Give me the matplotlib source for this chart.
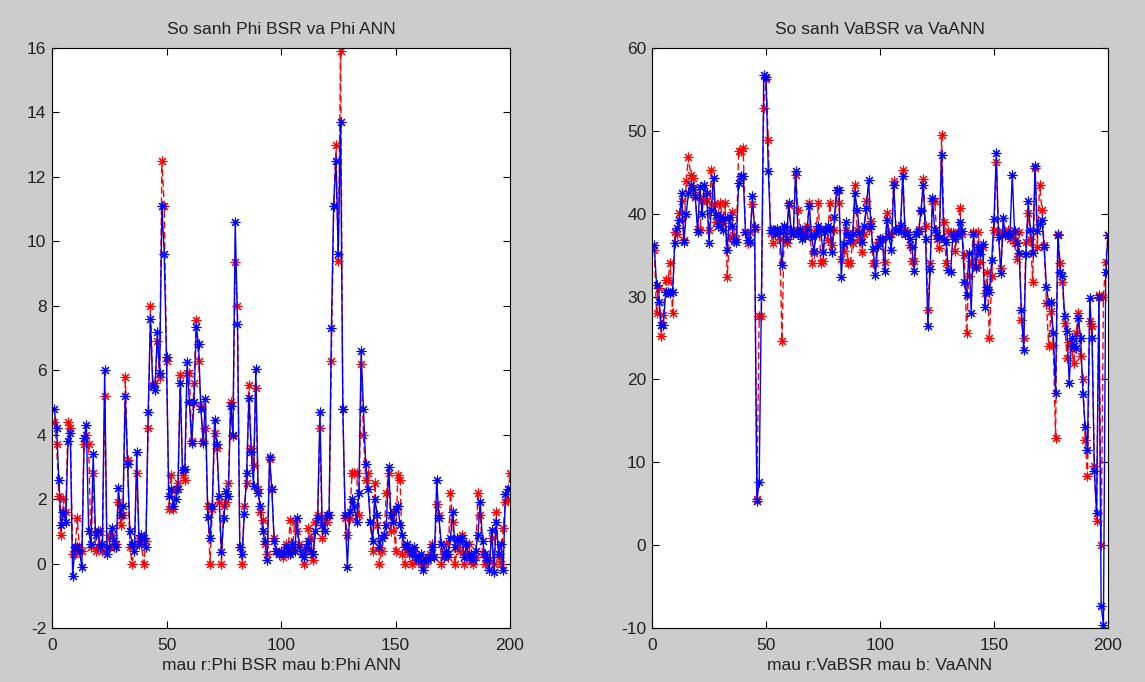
import numpy as np
import matplotlib
matplotlib.use("Agg")
import matplotlib.pyplot as plt

# Sample index (1..200)
samples = np.arange(1, 201)

# Phi: BSR reference (red) and ANN estimate (blue)
phi_bsr = [
    4.4, 3.7, 2.1, 0.9, 2.0, 1.6, 4.4, 4.2, 0.3, 0.3,
    1.4, 0.5, 0.4, 3.7, 4.0, 3.7, 0.5, 2.8, 0.4, 0.5,
    1.0, 0.4, 5.2, 0.5, 0.9, 0.9, 0.5, 0.6, 1.9, 1.2,
    1.5, 5.8, 3.2, 0.5, 0.0, 0.6, 2.8, 0.8, 0.6, 0.0,
    0.7, 4.2, 8.0, 5.55, 5.6, 6.9, 5.8, 12.5, 11.1, 6.3,
    1.7, 2.75, 1.7, 2.3, 2.5, 5.85, 2.75, 2.6, 5.9, 5.9,
    3.8, 5.6, 7.55, 6.3, 4.9, 3.8, 4.2, 1.8, 0.0, 1.7,
    4.05, 3.6, 1.9, 0.0, 1.8, 1.9, 2.5, 5.0, 3.95, 9.35,
    8.0, 0.5, 0.0, 1.8, 2.5, 5.55, 3.6, 3.05, 5.45, 2.3,
    1.6, 1.35, 0.6, 0.3, 3.25, 2.3, 0.8, 0.4, 0.3, 0.4,
    0.2, 0.6, 0.3, 1.35, 0.4, 1.3, 1.0, 0.6, 0.3, 0.0,
    0.4, 1.1, 0.8, 0.1, 1.3, 1.5, 4.2, 0.8, 1.4, 1.3,
    1.5, 6.3, 11.1, 13.0, 9.4, 15.9, 4.8, 1.4, 0.9, 1.4,
    2.8, 2.8, 2.8, 1.5, 6.2, 4.0, 2.6, 2.8, 1.3, 0.4,
    2.5, 1.2, 0.0, 0.4, 0.9, 2.2, 2.8, 1.0, 1.6, 0.4,
    2.75, 2.6, 0.3, 0.0, 0.5, 0.3, 0.0, 0.4, 0.1, 0.2,
    0.0, 0.1, 0.0, 0.2, 0.3, 0.6, 0.2, 1.85, 1.5, 0.0,
    0.3, 0.6, 0.2, 2.2, 1.3, 0.0, 0.5, 0.4, 0.9, 0.0,
    0.3, 0.6, 0.1, 0.0, 0.2, 2.2, 1.5, 0.3, 0.0, 0.2,
    0.1, 0.8, 0.0, 1.6, 0.2, 0.0, 1.1, 1.9, 2.0, 2.8,
]
phi_ann = [
    4.8, 4.2, 2.6, 1.2, 1.6, 1.3, 3.8, 4.05, -0.4, 0.5,
    0.5, 0.4, -0.1, 3.9, 4.3, 1.0, 0.6, 3.4, 0.9, 1.0,
    0.5, 0.6, 6.0, 0.3, 0.5, 1.1, 0.7, 0.5, 2.35, 1.5,
    1.8, 5.2, 3.1, 1.0, 0.6, 0.4, 3.45, 0.6, 0.9, 0.8,
    0.5, 4.7, 7.6, 5.5, 5.4, 7.2, 5.9, 11.1, 9.6, 6.4,
    2.1, 2.3, 1.8, 2.0, 2.3, 5.6, 2.9, 2.95, 6.25, 5.0,
    3.75, 5.0, 7.35, 6.8, 4.8, 3.75, 5.1, 1.45, 0.8, 1.8,
    4.45, 3.7, 2.1, 0.35, 1.4, 2.25, 2.1, 4.9, 4.0, 10.6,
    7.45, 0.5, 0.3, 1.55, 2.8, 5.15, 3.45, 2.4, 6.05, 2.2,
    1.8, 1.0, 0.7, 0.1, 3.3, 2.3, 0.7, 0.4, 0.3, 0.35,
    0.3, 0.5, 0.4, 0.3, 0.6, 0.4, 1.4, 0.5, 0.3, 0.2,
    0.5, 0.7, 0.4, 0.3, 1.0, 1.4, 4.7, 1.2, 1.0, 1.5,
    1.5, 7.3, 11.1, 12.5, 9.6, 13.7, 4.8, 1.5, -0.1, 1.6,
    2.0, 1.8, 1.3, 2.2, 6.6, 4.8, 3.1, 2.3, 1.3, 0.7,
    2.0, 1.5, 0.5, 0.8, 0.9, 1.2, 3.0, 1.5, 1.3, 1.7,
    1.8, 1.2, 0.9, 0.5, 0.6, 0.45, 0.3, 0.5, 0.2, 0.1,
    0.3, -0.2, 0.15, 0.1, 0.2, 0.5, 0.2, 2.6, 1.4, 0.6,
    0.2, 0.4, 0.3, 0.8, 1.6, 0.5, 0.8, 0.7, 0.8, 0.2,
    0.6, 0.2, 0.3, 0.1, 0.4, 0.9, 1.9, 0.7, 0.3, 0.1,
    -0.2, 1.05, -0.25, 1.3, 0.3, 0.6, -0.2, 2.15, 2.3, 2.3,
]

# Va: BSR reference (red) and ANN estimate (blue)
va_bsr = [
    35.6, 28.0, 31.0, 25.2, 27.8, 32.0, 32.0, 34.1, 28.0, 37.8,
    37.5, 40.1, 41.5, 36.8, 44.0, 46.8, 44.7, 44.3, 42.3, 38.1,
    38.0, 41.6, 41.9, 41.5, 38.0, 45.3, 41.2, 39.0, 40.0, 41.3,
    38.9, 41.3, 32.4, 37.2, 40.2, 37.4, 37.0, 47.6, 47.6, 47.9,
    37.8, 36.5, 37.8, 41.2, 38.2, 5.6, 27.7, 27.7, 52.8, 56.3,
    48.9, 37.7, 36.5, 38.0, 37.7, 37.0, 24.6, 38.5, 36.5, 41.0,
    37.5, 38.0, 44.7, 40.5, 37.6, 38.0, 37.4, 38.5, 41.3, 34.1,
    35.3, 38.0, 41.3, 34.1, 34.3, 38.2, 36.8, 41.3, 36.2, 38.0,
    42.9, 41.3, 34.5, 35.5, 38.0, 34.1, 34.1, 36.5, 43.5, 38.0,
    37.0, 35.4, 37.5, 41.5, 38.2, 39.1, 34.1, 34.1, 36.6, 36.9,
    36.9, 34.2, 40.1, 37.7, 37.5, 43.9, 38.0, 38.1, 37.8, 45.3,
    38.0, 37.6, 36.2, 34.3, 34.3, 37.6, 38.2, 40.3, 44.2, 38.5,
    28.4, 34.1, 41.5, 41.5, 37.0, 35.9, 49.5, 39.0, 34.1, 37.9,
    37.7, 37.7, 35.5, 37.8, 40.7, 37.5, 35.0, 25.6, 32.5, 34.3,
    37.8, 33.4, 37.8, 34.2, 36.0, 30.4, 33.0, 25.0, 32.5, 38.0,
    46.3, 37.8, 33.4, 37.8, 37.5, 38.0, 37.0, 37.2, 36.5, 34.5,
    37.8, 27.2, 25.0, 36.6, 40.1, 37.0, 31.7, 45.5, 36.0, 43.5,
    40.5, 36.2, 29.2, 24.0, 28.2, 24.2, 12.9, 37.6, 34.1, 31.7,
    26.8, 22.6, 24.5, 23.7, 22.0, 25.6, 28.0, 22.8, 20.0, 12.7,
    8.3, 27.0, 26.5, 9.5, 2.9, 30.2, 0.0, 30.0, 34.2, 37.4,
]
va_ann = [
    36.2, 31.4, 29.4, 26.6, 26.6, 30.5, 30.5, 30.4, 30.5, 36.5,
    38.3, 39.3, 42.5, 36.6, 40.0, 42.5, 43.5, 43.0, 42.0, 37.8,
    43.2, 40.0, 43.5, 42.5, 36.5, 40.5, 44.3, 39.8, 38.5, 39.6,
    38.0, 39.5, 35.6, 39.6, 38.5, 36.7, 36.6, 43.7, 44.5, 44.5,
    37.8, 36.8, 36.6, 42.1, 38.4, 5.3, 7.6, 30.0, 56.7, 56.5,
    45.2, 38.0, 38.0, 37.5, 38.2, 37.8, 33.8, 38.5, 37.0, 41.3,
    38.0, 37.6, 45.1, 37.6, 38.2, 37.0, 37.3, 38.1, 40.9, 37.2,
    35.5, 37.5, 38.5, 38.0, 35.4, 37.8, 38.5, 38.2, 35.4, 39.6,
    42.9, 42.9, 32.4, 36.4, 39.0, 37.5, 36.8, 37.6, 42.5, 40.5,
    37.8, 36.6, 38.5, 40.7, 44.1, 38.5, 35.7, 32.6, 36.1, 37.0,
    36.9, 33.1, 39.3, 37.2, 35.6, 43.5, 38.0, 38.0, 38.6, 44.5,
    37.5, 37.8, 37.0, 36.0, 33.1, 37.5, 37.9, 40.5, 43.5, 37.0,
    26.4, 33.3, 41.9, 38.0, 37.4, 37.1, 47.1, 37.0, 36.6, 33.2,
    33.0, 37.6, 37.0, 37.4, 39.0, 37.9, 31.7, 30.2, 35.3, 28.0,
    37.6, 33.6, 36.0, 35.1, 36.3, 28.8, 31.2, 30.5, 34.4, 39.4,
    47.3, 37.2, 32.8, 39.5, 37.4, 37.5, 37.4, 44.7, 37.9, 36.5,
    35.3, 28.4, 23.6, 35.1, 41.5, 38.0, 35.2, 45.7, 37.9, 38.8,
    39.3, 36.0, 31.2, 29.2, 29.4, 25.6, 18.4, 37.4, 33.0, 32.5,
    27.6, 25.8, 19.6, 25.0, 24.0, 23.8, 27.4, 25.0, 18.3, 14.3,
    11.5, 29.8, 25.0, 8.9, 3.9, 30.0, -7.4, -9.6, 33.0, 37.4,
]

titles = ["So sanh Phi BSR va Phi ANN", "So sanh VaBSR va VaANN"]
xlabels = ["mau r:Phi BSR mau b:Phi ANN", "mau r:VaBSR mau b: VaANN"]
xticks = [0, 50, 100, 150, 200]
yticks_phi = list(range(-2, 17, 2))
yticks_va = list(range(-10, 61, 10))

plt.rcParams["font.family"] = ["Liberation Sans", "DejaVu Sans"]
plt.rcParams["font.size"] = 12.5
plt.rcParams["axes.unicode_minus"] = False

W, H = 1145, 682
fig = plt.figure(figsize=(W / 100, H / 100), dpi=100, facecolor="#cccccc")

star = (8, 2, 0)
panels = [
    (fig.add_axes([52 / W, 54 / H, 458 / W, 580 / H]), phi_bsr, phi_ann, yticks_phi),
    (fig.add_axes([652 / W, 54 / H, 456 / W, 580 / H]), va_bsr, va_ann, yticks_va),
]

for k, (ax, ref, est, yt) in enumerate(panels):
    ax.plot(samples, ref, color="red", linestyle="--", dashes=(5, 2.5),
            linewidth=1.0, marker=star, markersize=7, markeredgewidth=0.8)
    ax.plot(samples, est, color="blue", linestyle="-",
            linewidth=1.0, marker=star, markersize=7, markeredgewidth=0.8)
    ax.set_xlim(0, 200)
    ax.set_ylim(yt[0], yt[-1])
    ax.set_xticks(xticks)
    ax.set_yticks(yt)
    ax.tick_params(direction="in", length=5, width=0.8, top=True, right=True,
                   colors="black", labelcolor="#222222", pad=4)
    ax.tick_params(axis="x", pad=7)
    for s in ax.spines.values():
        s.set_linewidth(0.8)
    ax.set_title(titles[k], fontsize=12.5, color="#222222", pad=10)
    ax.set_xlabel(xlabels[k], fontsize=12.5, color="#222222", labelpad=4)
    ax.set_facecolor("white")

fig.savefig("out.png", dpi=100, facecolor=fig.get_facecolor())
